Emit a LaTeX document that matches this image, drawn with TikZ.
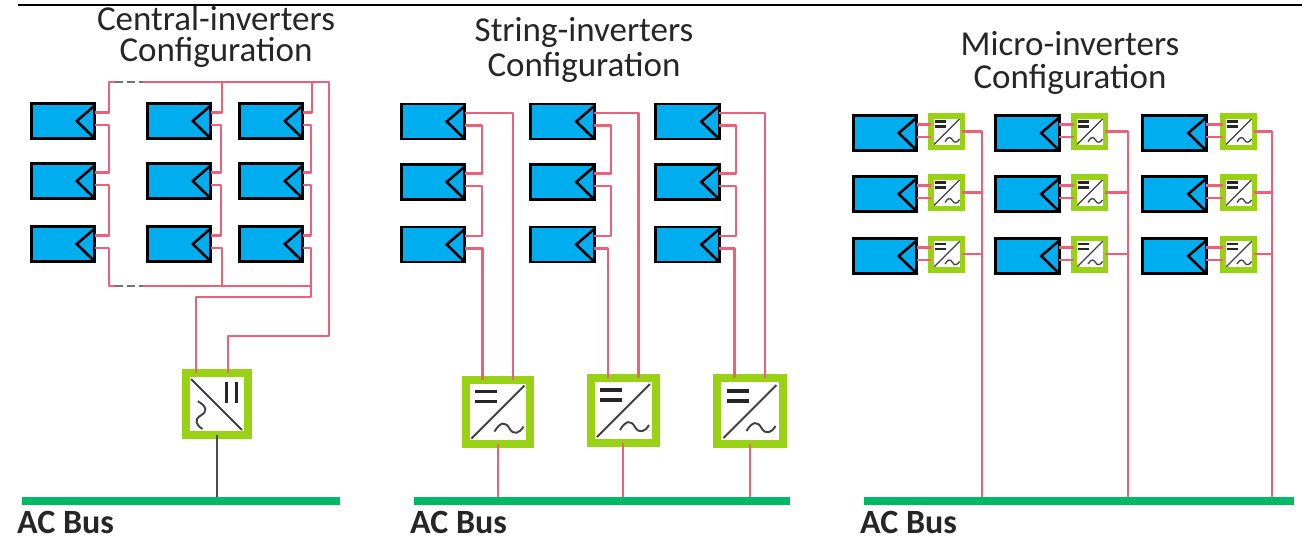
\documentclass[tikz,border=0pt]{standalone}
\usepackage{fontspec}
\setmainfont{Carlito}
\usetikzlibrary{calc}
\definecolor{panelblue}{HTML}{00AEEF}
\definecolor{dcred}{HTML}{EC6079}
\definecolor{invlime}{HTML}{99D215}
\definecolor{busgreen}{HTML}{00B964}
\definecolor{textdark}{HTML}{262626}

\tikzset{
  pvpanel/.style={
    draw=black, line width=2.8pt, fill=panelblue, inner sep=0pt, outer sep=0pt,
    minimum width=63.5pt, minimum height=35pt,
    path picture={
      \draw[line width=2.6pt,line join=miter]
        ($(path picture bounding box.north east)+(0,2)$) --
        ($(path picture bounding box.east)+(-18,0)$) --
        (path picture bounding box.south east);
    }
  },
  inverterbox/.style n args={5}{
    draw=invlime, line width=#2pt, fill=white, inner sep=0pt, outer sep=0pt,
    minimum size=#1pt-#2pt,
    path picture={
      \begin{scope}[shift={(path picture bounding box.center)},x={#4},y={#5}]
        \draw[black!75,line width=#3pt] (-26,27) -- (27,-26);
        \draw[black!85,line width=#3pt*1.7] (-23,-20) -- (-1,-20) (-23,-10) -- (-1,-10);
        \draw[black!75,line width=#3pt] (-3,20) .. controls (3,10) and (8,10) .. (12,17)
          .. controls (16,24) and (22,22) .. (26,15);
      \end{scope}
    }
  },
  dcwire/.style={draw=dcred, line width=2.2pt, line join=round},
  acwire/.style={draw=dcred, line width=2pt},
  gridwire/.style={draw=black!70, line width=1.5pt},
  gapwire/.style={draw=black!55, line width=1.8pt, dash pattern=on 8pt off 4pt},
  acbus/.style={fill=busgreen, inner sep=0pt, outer sep=0pt, minimum height=8pt},
  titletext/.style={text=textdark, align=center, inner sep=0pt, font=\fontsize{35}{31}\selectfont},
  bustext/.style={text=textdark, anchor=west, inner sep=0pt, font=\fontsize{34}{30}\selectfont\bfseries}
}

\newcommand{\pvpanel}[3]{
  \node[pvpanel] (#1) at (#2,#3) {};
  \coordinate (#1-p) at ($(#1.east)+(0,-8.5)$);
  \coordinate (#1-n) at ($(#1.east)+(0,4)$);
}

\begin{document}
\begin{tikzpicture}[x=1pt,y=-1pt]
  \useasboundingbox (0,0) rectangle (1302,539);
  \coordinate (topl) at (18,5);
  \coordinate (topr) at (1302,5);
  \draw[line width=2.4pt] (topl) -- (topr);

  % titles
  \node[titletext] (titlecentral) at (216,37) {Central-inverters\\Configuration};
  \node[titletext] (titlestring) at (584,50) {String-inverters\\[4pt]Configuration};
  \node[titletext] (titlemicro) at (1070,63) {Micro-inverters\\[2pt]Configuration};

  % central
  \foreach \cname/\xpos in {a/63,b/179,c/271} {
    \foreach \rname/\ypos in {1/121,2/181,3/244} {
      \pvpanel{c\cname\rname}{\xpos}{\ypos}
    }
  }

  \coordinate (ctl) at (109,82);
  \coordinate (ctr) at (329,82);
  \coordinate (cbl) at (109,286);
  \coordinate (cbr) at (312,286);
  \coordinate (ctm) at (222,82);
  \coordinate (ctk) at (312,82);

  \node[inverterbox={70}{8}{1.9}{(0pt,-0.96pt)}{(-0.96pt,0pt)}] (cinv) at (217,404) {};
  \coordinate (cinv-p) at ($(cinv.north)+(-21,0)$);
  \coordinate (cinv-n) at ($(cinv.north)+(11,0)$);

  \draw[dcwire] (ca1-p) -| (ctl) -- ($(ctl)+(6,0)$);
  \draw[gapwire] ($(ctl)+(6,0)$) -- ($(ctl)+(34,0)$);
  \draw[dcwire] ($(ctl)+(34,0)$) -- (ctr) -- ++(0,254) -| (cinv-n);
  \draw[dcwire] (ca1-n) -- ++(14,0) |- (ca2-p);
  \draw[dcwire] (ca2-n) -- ++(14,0) |- (ca3-p);
  \draw[dcwire] (ca3-n) -| (cbl) -- ($(cbl)+(6,0)$);
  \draw[gapwire] ($(cbl)+(6,0)$) -- ($(cbl)+(34,0)$);
  \draw[dcwire] ($(cbl)+(34,0)$) -- (cbr);

  \draw[dcwire] (cb1-p) -| (ctm);
  \draw[dcwire] (cb1-n) -- ++(10,0) |- (cb2-p);
  \draw[dcwire] (cb2-n) -- ++(10,0) |- (cb3-p);
  \draw[dcwire] (cb3-n) -| (cbl -| ctm);

  \draw[dcwire] (cc1-p) -| (ctk);
  \draw[dcwire] (cc1-n) -- ++(8,0) |- (cc2-p);
  \draw[dcwire] (cc2-n) -- ++(8,0) |- (cc3-p);
  \draw[dcwire] (cc3-n) -- ++(8,0) -- ++(0,49) -| (cinv-p);

  \node[acbus,minimum width=318pt] (acbusa) at (181,501) {};
  \draw[gridwire] (cinv.south) -- (cinv.south |- acbusa.north);
  \node[bustext] (labela) at (17,522) {AC Bus};

  % string
  \foreach \cname/\xpos in {a/433,b/562.5,c/687.5} {
    \foreach \rname/\ypos in {1/121.5,2/182,3/244.5} {
      \pvpanel{s\cname\rname}{\xpos}{\ypos}
    }
  }

  \node[inverterbox={72}{8}{1.9}{(1pt,0pt)}{(0pt,-1pt)}] (sinva) at (497.5,411.5) {};
  \node[inverterbox={73}{8}{1.9}{(1pt,0pt)}{(0pt,-1pt)}] (sinvb) at (623,410) {};
  \node[inverterbox={74}{8}{1.9}{(1pt,0pt)}{(0pt,-1pt)}] (sinvc) at (749.5,411) {};

  \foreach \cname in {a,b,c} {
    \coordinate (sinv\cname-p) at ($(sinv\cname.north)+(15.5,0)$);
    \coordinate (sinv\cname-n) at ($(sinv\cname.north)+(-15,0)$);
    \draw[dcwire] (s\cname1-p) -| (sinv\cname-p);
    \draw[dcwire] (s\cname1-n) -- ++(17,0) |- (s\cname2-p);
    \draw[dcwire] (s\cname2-n) -- ++(17,0) |- (s\cname3-p);
    \draw[dcwire] (s\cname3-n) -| (sinv\cname-n);
  }

  \node[acbus,minimum width=376pt] (acbusb) at (602,501) {};
  \foreach \cname in {a,b,c} {
    \draw[acwire] (sinv\cname.south) -- (sinv\cname.south |- acbusb.north);
  }
  \node[bustext] (labelb) at (410,522) {AC Bus};

  % micro
  \node[acbus,minimum width=430pt] (acbusc) at (1079,501) {};
  \foreach \cname/\xpos/\ixpos/\bxpos in {a/885/946.5/982,b/1027.5/1089.5/1128,c/1174.5/1238.5/1272} {
    \coordinate (mtop\cname) at (\bxpos,131);
    \draw[dcwire] (mtop\cname) -- (mtop\cname |- acbusc.north);
    \foreach \rname/\ypos/\iypos in {1/133/131.5,2/194/192.5,3/256/254} {
      \pvpanel{m\cname\rname}{\xpos}{\ypos}
      \node[inverterbox={37}{5.5}{1.3}{(0.5pt,0pt)}{(0pt,-0.5pt)}] (mi\cname\rname) at (\ixpos,\iypos) {};
      \draw[dcwire] (m\cname\rname-p) -- (m\cname\rname-p -| mi\cname\rname.west);
      \draw[dcwire] (m\cname\rname-n) -- (m\cname\rname-n -| mi\cname\rname.west);
      \draw[dcwire] (mi\cname\rname.east) -- (mi\cname\rname.east -| mtop\cname);
    }
  }
  \node[bustext] (labelc) at (860,522) {AC Bus};
\end{tikzpicture}
\end{document}
